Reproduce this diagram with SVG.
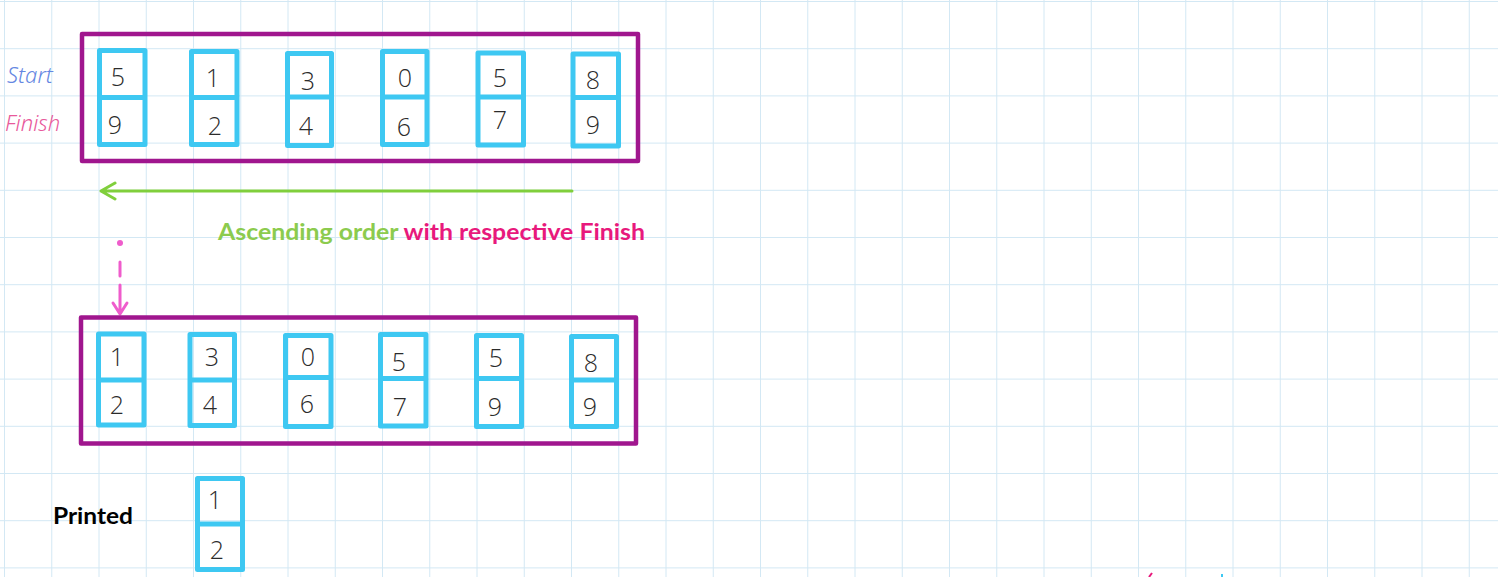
<svg xmlns="http://www.w3.org/2000/svg" width="1498" height="577" viewBox="0 0 1498 577">
<defs>
<style>
.grid{stroke:#d3e8f4;stroke-width:1;fill:none}
.frame{fill:none;stroke:#a0168e;stroke-width:4.5;stroke-linejoin:round}
.cell{fill:none;stroke:#3ec8f2;stroke-width:5;stroke-linejoin:round}
.dig{font-family:"Open Sans","DejaVu Sans",sans-serif;font-weight:300;font-size:25px;fill:#2b2b2b;text-anchor:middle}
.lbl{font-family:"Noto Sans","DejaVu Sans",sans-serif;font-style:italic;font-weight:300;font-size:22px}
.bold{font-family:Lato,"Open Sans",sans-serif;font-weight:700}
.green{stroke:#80cf3c;stroke-width:3;fill:none;stroke-linecap:round;stroke-linejoin:round}
.pink{stroke:#ef5ccc;stroke-width:3;fill:none;stroke-linecap:round;stroke-linejoin:round}
</style>
</defs>
<rect width="1498" height="577" fill="#ffffff"/>
<g id="grid" class="grid">
<path d="M4.5,0V577M51.75,0V577M99,0V577M146.25,0V577M193.5,0V577M240.75,0V577M288,0V577M335.25,0V577M382.5,0V577M429.75,0V577M477,0V577M524.25,0V577M571.5,0V577M618.75,0V577M666,0V577M713.25,0V577M760.5,0V577M807.75,0V577M855,0V577M902.25,0V577M949.5,0V577M996.75,0V577M1044,0V577M1091.25,0V577M1138.5,0V577M1185.75,0V577M1233,0V577M1280.25,0V577M1327.5,0V577M1374.75,0V577M1422,0V577M1469.25,0V577"/>
<path d="M0,1.5H1498M0,48.7H1498M0,95.9H1498M0,143.1H1498M0,190.3H1498M0,237.5H1498M0,284.7H1498M0,331.9H1498M0,379.1H1498M0,426.3H1498M0,473.5H1498M0,520.7H1498M0,567.9H1498"/>
</g>

<g id="labels">
<text class="lbl" x="7" y="83" fill="#6587e2">Start</text>
<text class="lbl" x="5" y="131" fill="#e8599b">Finish</text>
</g>

<g id="top-array">
<rect class="frame" x="82" y="34" width="556" height="127"/>
<g id="top-cell-1"><rect class="cell" x="99.5" y="50.5" width="45.5" height="94"/><path class="cell" d="M99.5,97.5H145"/><text class="dig" x="118" y="86">5</text><text class="dig" x="115" y="134">9</text></g>
<g id="top-cell-2"><rect class="cell" x="191.5" y="51.5" width="45.5" height="93"/><path class="cell" d="M191.5,97.5H237"/><text class="dig" x="213" y="87">1</text><text class="dig" x="215" y="135">2</text></g>
<g id="top-cell-3"><rect class="cell" x="287.5" y="53.5" width="44" height="92"/><path class="cell" d="M287.5,97H331.5"/><text class="dig" x="308" y="90">3</text><text class="dig" x="306" y="135">4</text></g>
<g id="top-cell-4"><rect class="cell" x="382.5" y="51.5" width="44.5" height="93"/><path class="cell" d="M382.5,97H427"/><text class="dig" x="405" y="87">0</text><text class="dig" x="404" y="136">6</text></g>
<g id="top-cell-5"><rect class="cell" x="478" y="53" width="45.5" height="92"/><path class="cell" d="M478,97H523.5"/><text class="dig" x="500" y="87">5</text><text class="dig" x="500" y="129">7</text></g>
<g id="top-cell-6"><rect class="cell" x="573" y="54" width="45.5" height="92"/><path class="cell" d="M573,97.5H618.5"/><text class="dig" x="593" y="89">8</text><text class="dig" x="593" y="134">9</text></g>
</g>

<g id="connectors">
<path class="green" d="M572,191H101M115,183L101,191L115,199"/>
<circle cx="120" cy="243" r="3" fill="#ef5ccc"/>
<path class="pink" d="M120,262V276M120,285V313M113,303L120,314L127,303"/>
</g>

<g id="caption">
<text class="bold" x="218" y="240" font-size="22" textLength="427" lengthAdjust="spacingAndGlyphs"><tspan fill="#8ccb4e">Ascending order </tspan><tspan fill="#e8197c">with respective Finish</tspan></text>
</g>

<g id="bottom-array">
<rect class="frame" x="81" y="317.5" width="555" height="126"/>
<g id="bottom-cell-1"><rect class="cell" x="98.5" y="334" width="45.5" height="91"/><path class="cell" d="M98.5,380H144"/><text class="dig" x="117" y="366">1</text><text class="dig" x="117" y="414">2</text></g>
<g id="bottom-cell-2"><rect class="cell" x="190" y="334.5" width="44.5" height="91"/><path class="cell" d="M190,380H234.5"/><text class="dig" x="212" y="366">3</text><text class="dig" x="210" y="414">4</text></g>
<g id="bottom-cell-3"><rect class="cell" x="285.5" y="335.5" width="45.5" height="91"/><path class="cell" d="M285.5,377.5H331"/><text class="dig" x="308" y="366">0</text><text class="dig" x="307" y="413">6</text></g>
<g id="bottom-cell-4"><rect class="cell" x="380.5" y="334.5" width="45.5" height="91.5"/><path class="cell" d="M380.5,378.5H426"/><text class="dig" x="399" y="371">5</text><text class="dig" x="400" y="416">7</text></g>
<g id="bottom-cell-5"><rect class="cell" x="476.5" y="335.5" width="45" height="91"/><path class="cell" d="M476.5,378.5H521.5"/><text class="dig" x="496" y="367">5</text><text class="dig" x="495" y="416">9</text></g>
<g id="bottom-cell-6"><rect class="cell" x="571.5" y="336.5" width="45" height="90"/><path class="cell" d="M571.5,380H616.5"/><text class="dig" x="591" y="372">8</text><text class="dig" x="590" y="416">9</text></g>
</g>

<g id="printed">
<text class="bold" x="53" y="524" font-size="23" fill="#000000" textLength="80" lengthAdjust="spacingAndGlyphs">Printed</text>
<g id="printed-cell"><rect class="cell" x="197.5" y="478.5" width="45" height="91"/><path class="cell" d="M197.5,524H242.5"/><text class="dig" x="215" y="509">1</text><text class="dig" x="217" y="559">2</text></g>
</g>

<g id="marks">
<path d="M1149,577L1152,573" stroke="#e8197c" stroke-width="2"/>
<path d="M1222,577V574" stroke="#3ec8f2" stroke-width="2"/>
</g>
</svg>
